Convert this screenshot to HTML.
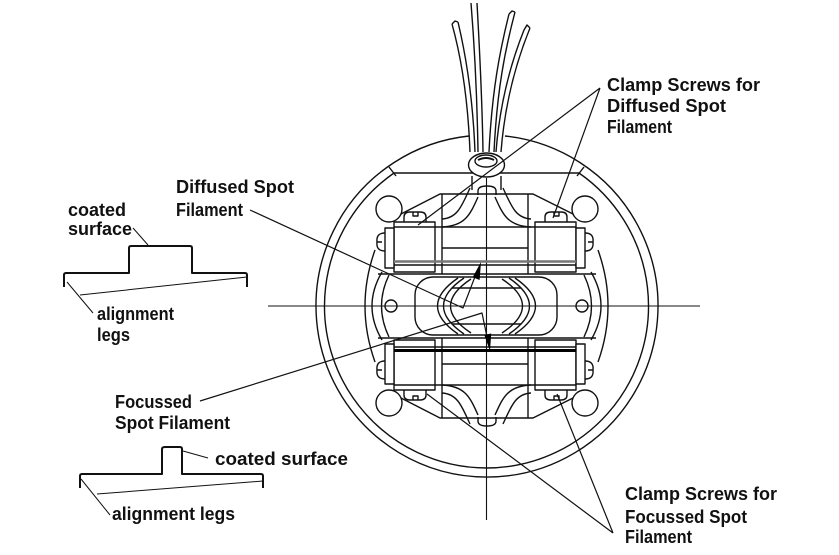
<!DOCTYPE html>
<html><head><meta charset="utf-8"><style>
html,body{margin:0;padding:0;background:#fff;}
svg{display:block;}
text{font-family:"Liberation Sans",sans-serif;font-weight:bold;font-size:18px;fill:#111;}
</style></head><body>
<svg width="839" height="555" viewBox="0 0 839 555" xmlns="http://www.w3.org/2000/svg">
<rect width="839" height="555" fill="#fff"/>
<g fill="none" stroke="#111" stroke-width="1.4" stroke-linejoin="round">
  <!-- outer rings -->
  <path d="M469,136 A171,171 0 1,0 505,136"/>
  <path d="M394,173 A162,162 0 1,0 579,173 Z"/>
  <path d="M389,167 L396,176 M584,167 L577,176"/>
  <!-- centerlines -->
  <path d="M268,306 H700" stroke-width="1.1"/>
  <path d="M486.5,178 V520" stroke-width="1.1"/>
  <!-- housing side arcs -->
  <path d="M375,250 Q355,306 375,362"/>
  <path d="M382,272 Q362,306 382,340"/>
  <path d="M389,275 Q374,306 389,337"/>
  <path d="M598,250 Q618,306 598,362"/>
  <path d="M591,272 Q611,306 591,340"/>
  <path d="M584,275 Q599,306 584,337"/>
  <!-- central region -->
  <path d="M378,274 H596 M378,338 H596"/>
  <rect x="415" y="277" width="142" height="58" rx="18"/>
  <path d="M458,278 Q417,306 458,334"/>
  <path d="M464,278 Q423,306 464,334"/>
  <path d="M471,279 Q430,306 471,333"/>
  <path d="M515,278 Q556,306 515,334"/>
  <path d="M509,278 Q550,306 509,334"/>
  <path d="M502,279 Q543,306 502,333"/>
  <path d="M452,288 H521 M452,324 H521"/>
  <circle cx="391" cy="306" r="6"/>
  <circle cx="582" cy="306" r="6"/>
  <!-- top assembly -->
  <g id="asm">
    <circle cx="389" cy="209" r="13" fill="#fff"/>
    <circle cx="585" cy="209" r="13" fill="#fff"/>
    <path d="M401,214 L440,194 H533 L573,214"/>
    <path d="M442,194 V227 M528,194 V227"/>
    <path d="M470,188 C462,205 458,218 442,219"/>
    <path d="M478,197 C470,215 465,226 442,227"/>
    <path d="M503,188 C511,205 515,218 531,219"/>
    <path d="M495,197 C503,215 508,226 531,227"/>
    <path d="M478,195 V191 Q478,186 487,186 Q496,186 496,191 V195"/>
    <path d="M404,222 V217 Q404,212 410,212 H420 Q426,212 426,217 V222"/>
    <path d="M413,212 V216 H418 V212"/>
    <path d="M545,222 V217 Q545,212 551,212 H561 Q567,212 567,217 V222"/>
    <path d="M554,212 V216 H559 V212"/>
    <rect x="394" y="222" width="41" height="50" fill="#fff"/>
    <rect x="535" y="222" width="41" height="50" fill="#fff"/>
    <rect x="385" y="228" width="9" height="40" fill="#fff"/>
    <rect x="576" y="228" width="9" height="40" fill="#fff"/>
    <path d="M385,233 Q376,233 377,242 Q376,251 385,251 M377,242 H382"/>
    <path d="M585,233 Q594,233 593,242 Q594,251 585,251 M593,242 H588"/>
    <path d="M394,227 H576"/>
    <path d="M442,248 H528"/>
    <path d="M394,265 H576"/>
    <path d="M442,227 V274 M528,227 V274"/>
  </g>
  <use href="#asm" transform="matrix(1 0 0 -1 0 612)"/>
  <!-- filament bars -->
  <path d="M394,261.5 H576" stroke="#777" stroke-width="2.6"/>
  <path d="M394,350.5 H576" stroke="#000" stroke-width="3"/>
  <!-- wires -->
  <path d="M470,152 C468,100 462,60 452,24 M475,152 C473,100 467,60 458,22 M452,24 L455,21 L458,22"/>
  <path d="M478,152 C477,90 474,40 471,3 M483,152 C482,90 479,40 477,3"/>
  <path d="M489,152 C492,90 500,50 509,14 M494,152 C497,90 505,50 515,12 M509,14 L512,11 L515,12"/>
  <path d="M496,152 C500,100 512,60 524,30 M501,152 C505,100 517,60 530,28 M524,30 L527,25 L530,28"/>
  <path d="M472,176 V190 M501,176 V190"/>
  <!-- collar -->
  <ellipse cx="486.5" cy="165" rx="18" ry="12" fill="#fff"/>
  <ellipse cx="486" cy="161" rx="11" ry="6"/>
  <path d="M478,160 Q486,156 494,160" stroke-width="2"/>
  <!-- left profile 1 -->
  <path d="M64,287 V275 Q64,273 66,273 H129 V248 Q129,246 131,246 H190 Q192,246 192,248 V273 H245 Q247,273 247,275 V287" stroke-width="2"/>
  <path d="M80,295 L247,277 M67,282 L93,313 M133,228 L148,245" stroke-width="1"/>
  <!-- left profile 2 -->
  <path d="M80,488 V476 Q80,474 82,474 H162 V449 Q162,447 165,447 H180 Q182,447 182,449 V474 H261 Q263,474 263,476 V488" stroke-width="2"/>
  <path d="M97,494 L263,481 M81,479 L110,515 M183,451 L208,458" stroke-width="1"/>
  <!-- leaders -->
  <path d="M250,210 L463,308 L476,274" stroke-width="1.2"/>
  <path d="M200,401 L482,313 L487,337" stroke-width="1.2"/>
  <path d="M600,88 L418,225 M600,88 L553,218" stroke-width="1.2"/>
  <path d="M613,533 L427,394 M613,533 L557,394" stroke-width="1.2"/>
</g>
<!-- arrowheads -->
<polygon points="481,262 479.6,280 472.7,277.3" fill="#000"/>
<polygon points="490,351 491.2,333.5 484.3,334.9" fill="#000"/>
<!-- labels -->
<text x="607" y="91" textLength="153" lengthAdjust="spacingAndGlyphs">Clamp Screws for</text>
<text x="607" y="112" textLength="119" lengthAdjust="spacingAndGlyphs">Diffused Spot</text>
<text x="607" y="133" textLength="65" lengthAdjust="spacingAndGlyphs">Filament</text>
<text x="176" y="193" textLength="118" lengthAdjust="spacingAndGlyphs">Diffused Spot</text>
<text x="176" y="216" textLength="67" lengthAdjust="spacingAndGlyphs">Filament</text>
<text x="68" y="216" textLength="58" lengthAdjust="spacingAndGlyphs">coated</text>
<text x="68" y="235" textLength="64" lengthAdjust="spacingAndGlyphs">surface</text>
<text x="97" y="320" textLength="77" lengthAdjust="spacingAndGlyphs">alignment</text>
<text x="97" y="341" textLength="33" lengthAdjust="spacingAndGlyphs">legs</text>
<text x="115" y="408" textLength="77" lengthAdjust="spacingAndGlyphs">Focussed</text>
<text x="115" y="429" textLength="115" lengthAdjust="spacingAndGlyphs">Spot Filament</text>
<text x="215" y="465" textLength="133" lengthAdjust="spacingAndGlyphs">coated surface</text>
<text x="112" y="520" textLength="123" lengthAdjust="spacingAndGlyphs">alignment legs</text>
<text x="625" y="500" textLength="152" lengthAdjust="spacingAndGlyphs">Clamp Screws for</text>
<text x="625" y="523" textLength="122" lengthAdjust="spacingAndGlyphs">Focussed Spot</text>
<text x="625" y="543" textLength="67" lengthAdjust="spacingAndGlyphs">Filament</text>
</svg>
</body></html>
